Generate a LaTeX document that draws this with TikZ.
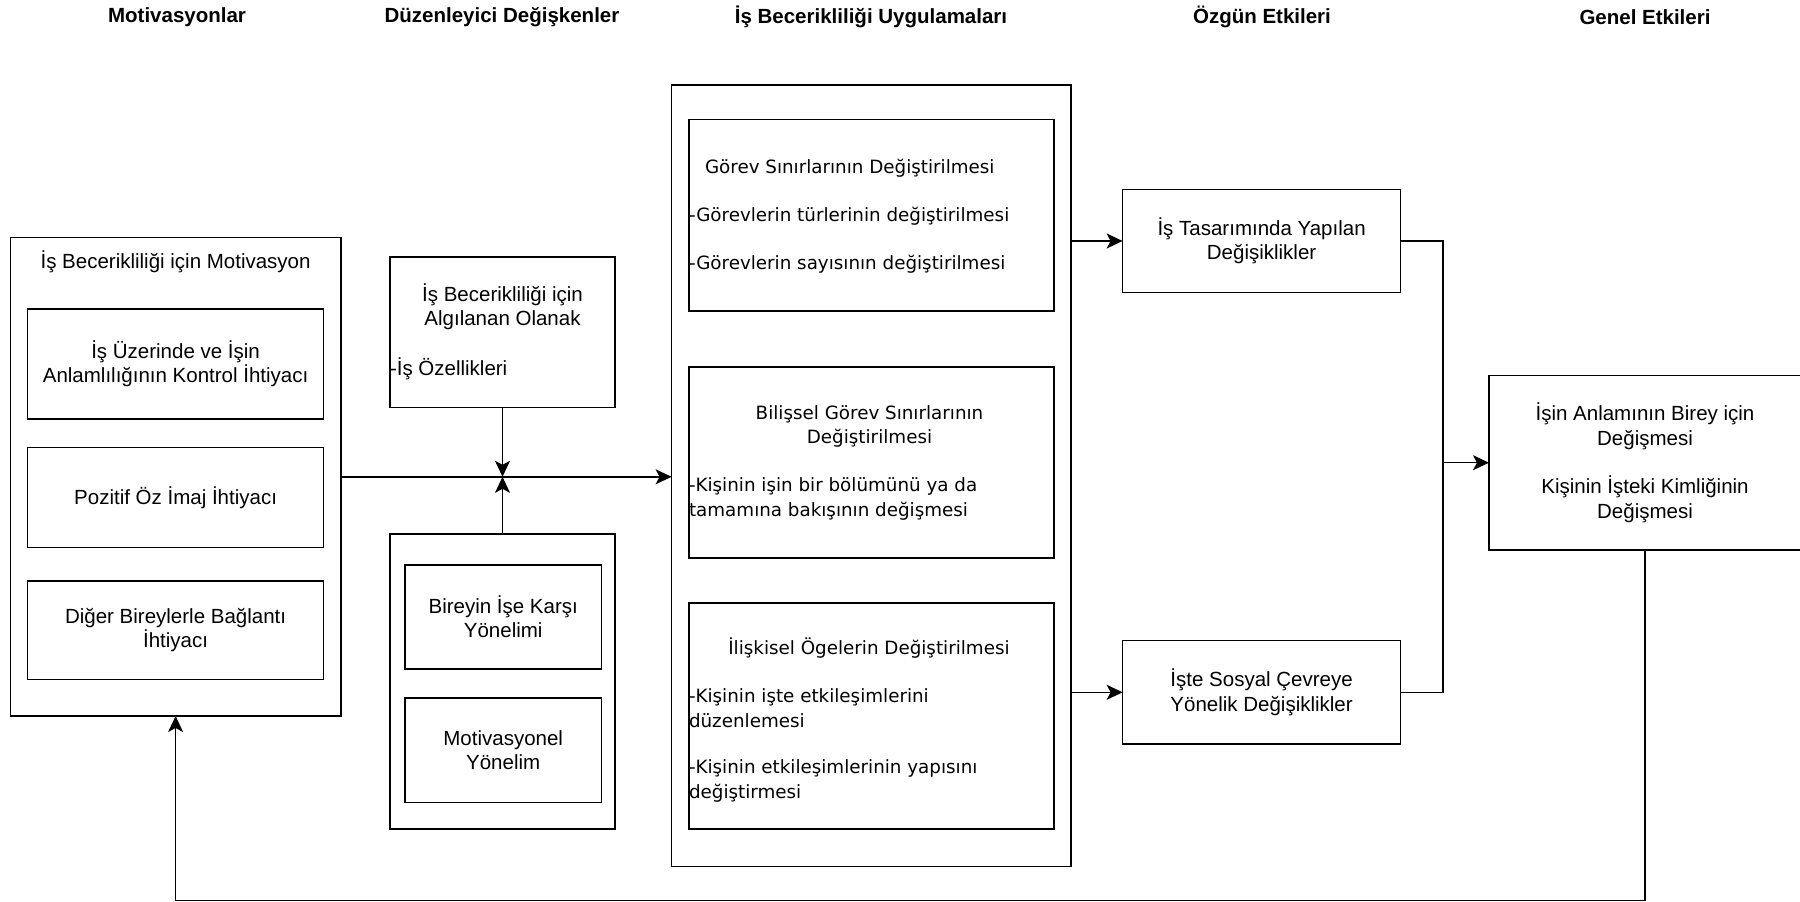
\documentclass[tikz,border=0pt]{standalone}
\usepackage{fontspec}
\setmainfont{Liberation Sans}
\newfontfamily\vfont{DejaVu Sans}
\usetikzlibrary{arrows.meta}
\begin{document}
\begin{tikzpicture}[x=1pt,y=-1pt,
  box/.style={draw, line width=1.4pt, inner sep=0pt, outer sep=0pt, align=center,
              font=\fontsize{20.5}{24.3}\selectfont},
  txt/.style={inner sep=0pt, outer sep=0pt, align=center, font=\fontsize{20.5}{24.3}\selectfont},
  vtxt/.style={inner sep=0pt, outer sep=0pt, align=left, anchor=west, font=\vfont\fontsize{18.3}{24.6}\selectfont},
  vctr/.style={inner sep=0pt, outer sep=0pt, align=center, font=\vfont\fontsize{18.3}{24.6}\selectfont},
  head/.style={inner sep=0pt, font=\bfseries\fontsize{20.5}{24.3}\selectfont},
  conn/.style={line width=1.4pt},
  arr/.style={conn, -{Stealth[length=16pt,width=15pt,inset=4pt]}}
]
\useasboundingbox (0,0) rectangle (1800,902);
\fill[white] (0,0) rectangle (1800,902);

% headers
\node[head] (h1) at (177,17) {Motivasyonlar};
\node[head] (h2) at (502,17) {Düzenleyici Değişkenler};
\node[head] (h3) at (871,17) {İş Becerikliliği Uygulamaları};
\node[head] (h4) at (1262,17) {Özgün Etkileri};
\node[head] (h5) at (1645,17) {Genel Etkileri};

% motivation column
\node[box, minimum width=330.7pt, minimum height=478.4pt] (mot) at (175.6,476.8) {};
\node[txt] (mott) at (175.6,262) {İş Becerikliliği için Motivasyon};
\node[box, minimum width=296.2pt, minimum height=110.2pt] (m1) at (175.6,363.9)
  {İş Üzerinde ve İşin\\Anlamlılığının Kontrol İhtiyacı};
\node[box, minimum width=296.2pt, minimum height=99.9pt] (m2) at (175.6,497.6)
  {Pozitif Öz İmaj İhtiyacı};
\node[box, minimum width=296.2pt, minimum height=98.6pt] (m3) at (175.6,630.3)
  {Diğer Bireylerle Bağlantı\\İhtiyacı};

% moderators
\node[box, minimum width=225pt, minimum height=150.5pt] (per) at (502.5,332.2) {};
\node[txt] (pert) at (502.5,307) {İş Becerikliliği için\\Algılanan Olanak};
\node[txt, anchor=west] (peri) at (390,368.5) {-İş Özellikleri};
\node[box, minimum width=225pt, minimum height=295pt] (low) at (502.5,681.5) {};
\node[box, minimum width=196.5pt, minimum height=104pt] (l1) at (503.2,617)
  {Bireyin İşe Karşı\\Yönelimi};
\node[box, minimum width=196.5pt, minimum height=104.5pt] (l2) at (503.2,750.2)
  {Motivasyonel\\Yönelim};

% practices
\node[box, minimum width=399.4pt, minimum height=781.7pt] (big) at (871.3,475.8) {};
\node[box, minimum width=365pt, minimum height=191.6pt] (b1) at (871.5,215.2) {};
\node[vtxt] (b1t) at (705,168) {Görev Sınırlarının Değiştirilmesi};
\node[vtxt] (b1a) at (689,216) {-Görevlerin türlerinin değiştirilmesi};
\node[vtxt] (b1b) at (689,264) {-Görevlerin sayısının değiştirilmesi};
\node[box, minimum width=365pt, minimum height=191pt] (b2) at (871.5,462.5) {};
\node[vctr] (b2t) at (869.5,426.5) {Bilişsel Görev Sınırlarının\\Değiştirilmesi};
\node[vtxt] (b2a) at (689,499) {-Kişinin işin bir bölümünü ya da\\tamamına bakışının değişmesi};
\node[box, minimum width=365pt, minimum height=226pt] (b3) at (871.5,716) {};
\node[vctr] (b3t) at (869,648) {İlişkisel Ögelerin Değiştirilmesi};
\node[vtxt] (b3a) at (689,708) {-Kişinin işte etkileşimlerini\\düzenlemesi};
\node[vtxt] (b3b) at (689,781) {-Kişinin etkileşimlerinin yapısını\\değiştirmesi};

% specific effects
\node[box, minimum width=277.9pt, minimum height=103.3pt] (o1) at (1261.6,241)
  {İş Tasarımında Yapılan\\Değişiklikler};
\node[box, minimum width=277.9pt, minimum height=103.4pt] (o2) at (1261.6,692.3)
  {İşte Sosyal Çevreye\\Yönelik Değişiklikler};

% general effects
\node[box, minimum width=312pt, minimum height=174.6pt] (gen) at (1645,462.7)
  {İşin Anlamının Birey için\\Değişmesi\\[24.3pt]Kişinin İşteki Kimliğinin\\Değişmesi};

% connectors
\coordinate (j) at (per.south |- mot.east);
\draw[arr] (mot.east) -- (mot.east -| big.west);
\draw[arr] (per.south) -- (j);
\draw[arr] (low.north) -- (j);
\draw[arr] (big.east |- o1.west) -- (o1.west);
\draw[arr] (big.east |- o2.west) -- (o2.west);
\coordinate (mj) at (1443,462.7);
\draw[conn] (o1.east) -| (mj);
\draw[conn] (o2.east) -| (mj);
\draw[arr] (mj) -- (gen.west);
\coordinate (fb) at (1645,900.5);
\draw[arr] (gen.south) -- (gen.south |- fb) -| (mot.south);
\end{tikzpicture}
\end{document}
